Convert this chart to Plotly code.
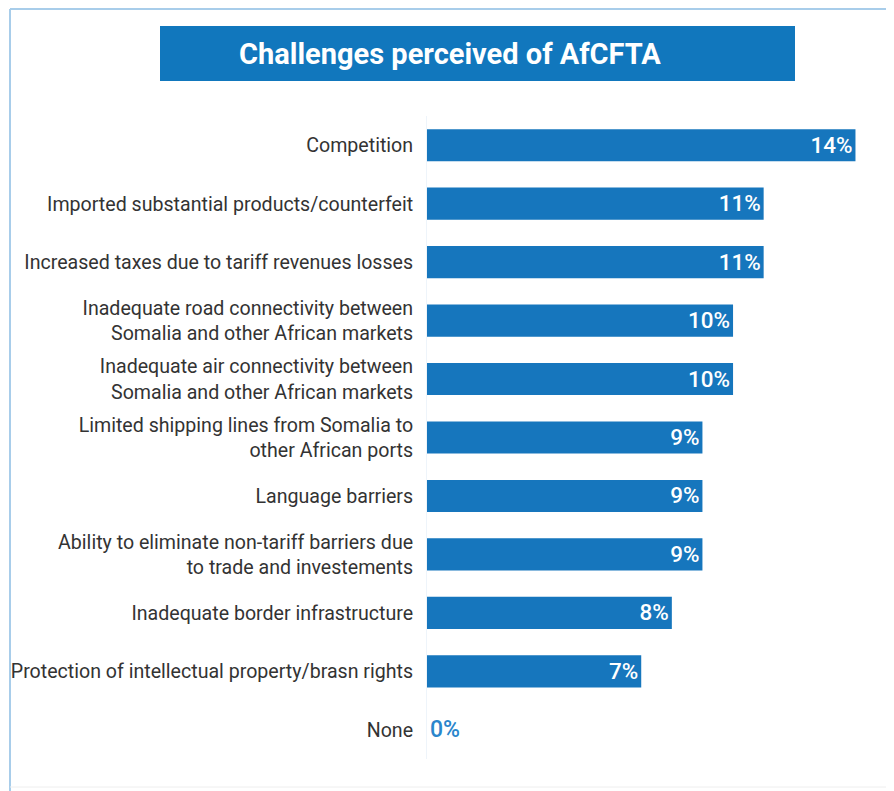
import plotly.graph_objects as go

categories = [
    "Competition",
    "Imported substantial products/counterfeit",
    "Increased taxes due to tariff revenues losses",
    "Inadequate road connectivity between<br>Somalia and other African markets",
    "Inadequate air connectivity between<br>Somalia and other African markets",
    "Limited shipping lines from Somalia to<br>other African ports",
    "Language barriers",
    "Ability to eliminate non-tariff barriers due<br>to trade and investements",
    "Inadequate border infrastructure",
    "Protection of intellectual property/brasn rights",
    "None",
]
values = [14, 11, 11, 10, 10, 9, 9, 9, 8, 7, 0]
value_labels = ["14%", "11%", "11%", "10%", "10%", "9%", "9%", "9%", "8%", "7%", "0%"]

# page body has an 8px margin; target pixel coordinates are given in window space
OFF = 8
W, H = 894 - OFF, 791 - OFF
PL, PR, PT, PB = 427, 857, 116, 759  # plot area in window pixels
ML, MR, MT, MB = PL - OFF, (W + OFF) - PR, PT - OFF, (H + OFF) - PB
PW, PH = PR - PL, PB - PT

def px(x):
    return (x - PL) / PW

def py(y):
    return 1 - (y - PT) / PH

BLUE = "#1676bd"

fig = go.Figure(go.Bar(
    y=categories,
    x=values,
    orientation="h",
    marker=dict(color=BLUE, line=dict(width=0)),
    text=value_labels,
    textposition=["inside" if v > 0 else "outside" for v in values],
    insidetextanchor="end",
    insidetextfont=dict(family="Roboto", size=24, color="white", weight=500),
    outsidetextfont=dict(family="Roboto", size=23, color="#2a86cc", weight=500),
    cliponaxis=False,
    hoverinfo="skip",
))

fig.update_layout(
    width=W, height=H,
    margin=dict(l=ML, r=MR, t=MT, b=MB, pad=0, autoexpand=False),
    paper_bgcolor="white",
    plot_bgcolor="white",
    showlegend=False,
    bargap=0.45,
    font=dict(family="Roboto", color="#333333"),
    xaxis=dict(range=[0, 14.05], visible=False, automargin=False),
    yaxis=dict(
        autorange="reversed",
        automargin=False,
        tickfont=dict(family="Roboto", size=19.6, color="#333333"),
        showgrid=False,
        showline=True, linecolor="#eef4fa", linewidth=1,
        ticks="", ticklabelstandoff=9,
    ),
    shapes=[
        dict(type="rect", xref="paper", yref="paper",
             x0=px(160), x1=px(795), y0=py(81), y1=py(26),
             fillcolor="#1177bd", line=dict(width=0), layer="below"),
        dict(type="line", xref="paper", yref="paper",
             x0=px(10), x1=px(894), y0=py(9), y1=py(9),
             line=dict(color="#a8cdea", width=2)),
        dict(type="line", xref="paper", yref="paper",
             x0=px(10), x1=px(10), y0=py(9), y1=py(791),
             line=dict(color="#a8cdea", width=2)),
        dict(type="line", xref="paper", yref="paper",
             x0=px(10), x1=px(894), y0=py(787), y1=py(787),
             line=dict(color="#eeeeee", width=1)),
    ],
    annotations=[
        dict(text="<b>Challenges perceived of AfCFTA</b>", xref="paper", yref="paper",
             x=px(450), y=py(54), xanchor="center", yanchor="middle",
             showarrow=False, font=dict(family="Roboto", size=29, color="white")),
    ],
)

fig.write_html("out.html")
